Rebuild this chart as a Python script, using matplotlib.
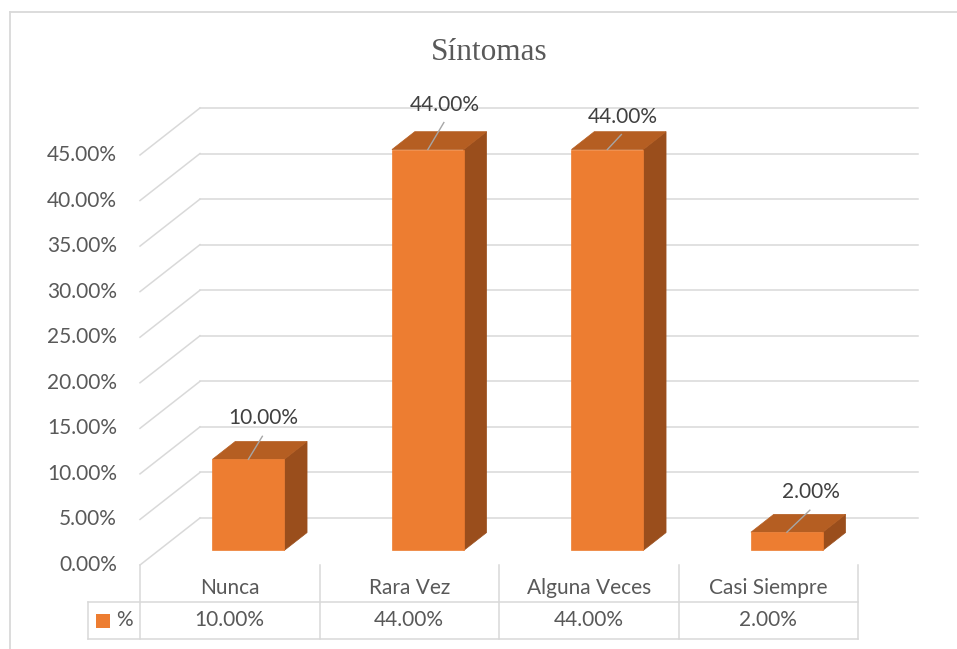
import matplotlib.pyplot as plt
import matplotlib.transforms as mtransforms
from matplotlib.patches import Polygon
from matplotlib.lines import Line2D

categories = ['Nunca', 'Rara Vez', 'Alguna Veces', 'Casi Siempre']
values = [0.10, 0.44, 0.44, 0.02]
series_name = '%'
y_ticks = [0.00, 0.05, 0.10, 0.15, 0.20, 0.25, 0.30, 0.35, 0.40, 0.45]
title = 'Síntomas'

plt.rcParams['font.family'] = ['Lato', 'DejaVu Sans']

W, H = 957, 649
DEPTH = (60, 47)          # pixel shift from front plane to back wall
BAR_W = 0.40              # fraction of a category slot
BAR_D = (0.31, 0.69)      # depth range of the bars
GRID = '#D9D9D9'
TXT = '#595959'
FRONT, TOP, SIDE = '#ED7D31', '#B55E22', '#9A4E1C'
# manual label offsets (px) from the front-top centre of each bar
label_off = [(15, 41), (17, 45), (15, 33), (24, 40)]

fig = plt.figure(figsize=(W / 100, H / 100), dpi=100)
ax = fig.add_axes([140 / W, (H - 565) / H, 718 / W, 410 / H])
ax.set_xlim(-0.5, len(categories) - 0.5)
ax.set_ylim(0, 0.45)
ax.axis('off')
ident = mtransforms.IdentityTransform()


def proj(x, v, d):
    px, py = ax.transData.transform((x, v))
    return px + d * DEPTH[0], py + d * DEPTH[1]


def line(p0, p1, color=GRID, lw=1.1, z=1):
    ax.add_line(Line2D([p0[0], p1[0]], [p0[1], p1[1]], color=color, lw=lw,
                       transform=ident, clip_on=False, zorder=z))


def face(pts, color):
    ax.add_patch(Polygon(pts, closed=True, facecolor=color, edgecolor=color,
                         lw=0.5, transform=ident, clip_on=False, zorder=3))


x_lo, x_hi = -0.5, len(categories) - 0.5

# chart border
line((9.5, 0), (9.5, H - 12), lw=1.3)
line((9.5, H - 12), (W, H - 12), lw=1.3)

# walls: diagonal on the left side, horizontal on the back
for v in y_ticks:
    line(proj(x_lo, v, 0), proj(x_lo, v, 1))
    line(proj(x_lo, v, 1), proj(x_hi, v, 1))
    fx, fy = proj(x_lo, v, 0)
    ax.text(fx - 23, fy, f'{v * 100:.2f}%', transform=ident, ha='right',
            va='center', fontsize=15, color=TXT)

# bars
for i, v in enumerate(values):
    x0, x1 = i - BAR_W / 2, i + BAR_W / 2
    d0, d1 = BAR_D
    face([proj(x1, 0, d0), proj(x1, 0, d1), proj(x1, v, d1), proj(x1, v, d0)], SIDE)
    face([proj(x0, v, d0), proj(x1, v, d0), proj(x1, v, d1), proj(x0, v, d1)], TOP)
    face([proj(x0, 0, d0), proj(x1, 0, d0), proj(x1, v, d0), proj(x0, v, d0)], FRONT)
    ax_, ay_ = proj(i, v, d0)
    dx, dy = label_off[i]
    line((ax_, ay_), (ax_ + dx - 1, ay_ + dy - 18), color='#A6A6A6', lw=1.0, z=4)
    ax.text(ax_ + dx, ay_ + dy, f'{v * 100:.2f}%', transform=ident, ha='center',
            va='center', fontsize=15, color='#404040', zorder=5)

# data table
_, y0 = proj(x_lo, 0, 0)
row = 37
x_leg = 88
for k in range(len(categories) + 1):
    xb, _ = proj(x_lo + k, 0, 0)
    line((xb, y0), (xb, y0 - 2 * row))
xr, _ = proj(x_hi, 0, 0)
line((x_leg, y0 - row), (xr, y0 - row))
line((x_leg, y0 - 2 * row), (xr, y0 - 2 * row))
line((x_leg, y0 - row), (x_leg, y0 - 2 * row))
for i, (c, v) in enumerate(zip(categories, values)):
    cx, _ = proj(i, 0, 0)
    ax.text(cx, y0 - row / 2 - 4, c, transform=ident, ha='center', va='center',
            fontsize=15, color=TXT)
    ax.text(cx, y0 - 1.5 * row, f'{v * 100:.2f}%', transform=ident, ha='center',
            va='center', fontsize=15, color=TXT)
ax.add_patch(plt.Rectangle((96, y0 - 1.5 * row - 7), 14, 14, facecolor=FRONT,
                           transform=ident, clip_on=False))
ax.text(124, y0 - 1.5 * row, series_name, transform=ident, ha='center',
        va='center', fontsize=15, color=TXT)

fig.text(489 / W, 1 - 52 / H, title, ha='center', va='center',
         fontsize=22.5, color=TXT, family='Liberation Serif')

fig.savefig('out.png', dpi=100)
